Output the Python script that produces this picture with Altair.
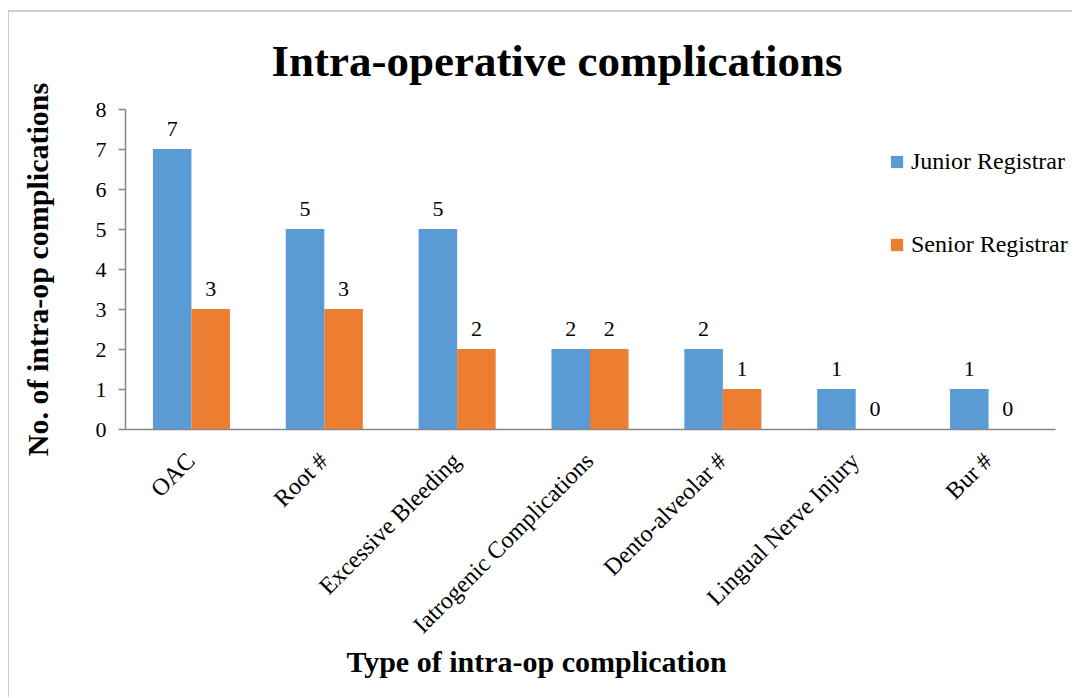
import altair as alt
import pandas as pd

categories = ["OAC", "Root #", "Excessive Bleeding", "Iatrogenic Complications",
              "Dento-alveolar #", "Lingual Nerve Injury", "Bur #"]
junior = [7, 5, 5, 2, 2, 1, 1]
senior = [3, 3, 2, 2, 1, 0, 0]
series = ["Junior Registrar", "Senior Registrar"]
colors = ["#5B9BD5", "#ED7D31"]

rows = []
for c, j, s in zip(categories, junior, senior):
    rows.append({"cat": c, "series": series[0], "val": j})
    rows.append({"cat": c, "series": series[1], "val": s})
df = pd.DataFrame(rows)

FONT = "Liberation Serif"
AX = "#868686"

base = alt.Chart(df).encode(
    x=alt.X("cat:N", sort=categories,
            scale=alt.Scale(paddingInner=0.42, paddingOuter=0.21),
            axis=alt.Axis(title="Type of intra-op complication", labelAngle=-45,
                          labelAlign="right", labelBaseline="middle", labelLimit=0,
                          labelFontSize=24, labelFont=FONT, labelColor="black",
                          labelPadding=28, labelOffset=0, ticks=False, domainColor=AX,
                          domainWidth=1.5,
                          titleFontSize=30, titleFont=FONT, titleFontWeight="bold",
                          titleX=411, titleY=218, titleAlign="center",
                          titleBaseline="top", titleColor="black")),
    xOffset=alt.XOffset("series:N", sort=series, scale=alt.Scale(paddingInner=0, paddingOuter=0)),
    y=alt.Y("val:Q", scale=alt.Scale(domain=[0, 8]),
            axis=alt.Axis(title="No. of intra-op complications", values=list(range(9)),
                          grid=False, labelFontSize=22, labelFont=FONT, labelColor="black",
                          labelPadding=12, tickSize=7, tickColor=AX, domainColor=AX,
                          domainWidth=1.5, tickWidth=1.5,
                          titleFontSize=30, titleFont=FONT, titleFontWeight="bold",
                          titleAngle=-90, titleX=-87, titleY=160, titleAlign="center",
                          titleBaseline="middle", titleColor="black")),
)

bars = base.mark_bar().encode(
    color=alt.Color("series:N", sort=series,
                    scale=alt.Scale(domain=series, range=colors),
                    legend=alt.Legend(title=None, orient="none", legendX=760, legendY=41,
                                      symbolType="square", symbolSize=150,
                                      symbolStrokeWidth=0,
                                      labelFontSize=24, labelFont=FONT, labelColor="black",
                                      rowPadding=59, labelOffset=2, labelLimit=0)),
)

labels = base.mark_text(baseline="bottom", dy=-8, fontSize=22, font=FONT, color="black").encode(
    text=alt.Text("val:Q")
)

border = alt.Chart(pd.DataFrame({"a": [0]})).mark_rect(
    fill=None, stroke="#BFBFBF", strokeWidth=1.5
).encode(x=alt.value(-117), x2=alt.value(1200), y=alt.value(-98), y2=alt.value(800))

chart = alt.layer(border, bars, labels).properties(
    width=930, height=320,
    title=alt.TitleParams("Intra-operative complications", fontSize=45, font=FONT,
                          fontWeight="bold", color="black", anchor="middle", dx=-33,
                          offset=0, dy=75, frame="group"),
    autosize=alt.AutoSizeParams(type="none"),
    padding={"left": 117, "top": 101, "right": 17, "bottom": 268},
).configure_view(stroke=None)

chart.save("out.html", embed_options={"renderer": "svg", "actions": False})
